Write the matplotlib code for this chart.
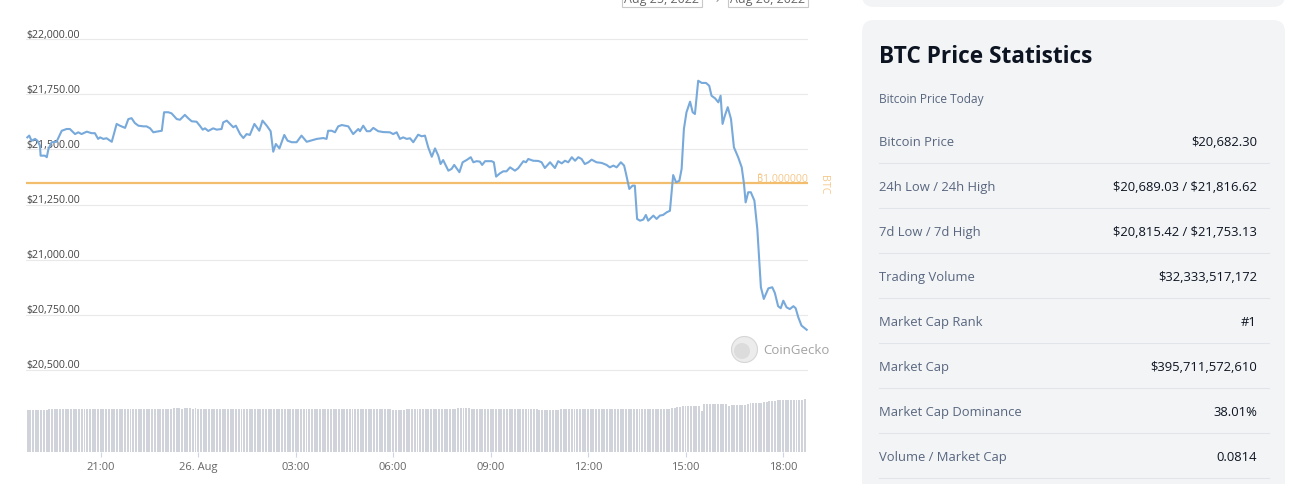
import numpy as np
import matplotlib
matplotlib.use("Agg")
import matplotlib.pyplot as plt
from matplotlib.patches import FancyBboxPatch, Circle, Rectangle

plt.rcParams['font.family'] = ['Open Sans', 'Noto Sans', 'Inter', 'Roboto', 'Lato', 'DejaVu Sans']
plt.rcParams['text.parse_math'] = False

# hours after 18:00 on 25 Aug
price_hours = [
    0.74, 0.80, 0.87, 0.98, 1.05, 1.13, 1.15, 1.28, 1.34, 1.39, 1.49, 1.64, 1.80, 1.95, 2.05,
    2.21, 2.31, 2.41, 2.57, 2.72, 2.82, 2.92, 2.98, 3.08, 3.18, 3.34, 3.49, 3.59, 3.75, 3.85,
    3.95, 4.05, 4.16, 4.31, 4.41, 4.52, 4.62, 4.72, 4.88, 4.95, 5.08, 5.18, 5.34, 5.44, 5.59,
    5.69, 5.80, 5.95, 6.05, 6.14, 6.21, 6.31, 6.46, 6.57, 6.72,
    6.77, 6.88, 6.98, 7.08, 7.16, 7.29, 7.39, 7.49, 7.59, 7.73, 7.88, 7.98, 8.11, 8.23, 8.31,
    8.39, 8.50, 8.65, 8.75, 8.88, 9.03, 9.18, 9.34, 9.65, 9.85, 9.95, 10.00, 10.11, 10.21, 10.31,
    10.42, 10.62, 10.77, 10.93, 10.98, 11.08, 11.19, 11.29, 11.39, 11.54, 11.70, 11.90, 12.00,
    12.11, 12.21, 12.31, 12.42, 12.52, 12.62, 12.77, 12.88, 12.98,
    13.08, 13.19, 13.29, 13.39, 13.46, 13.54, 13.70, 13.80, 13.88, 14.04, 14.14, 14.26, 14.39,
    14.47, 14.57, 14.67, 14.74, 14.83, 15.03, 15.10, 15.17, 15.29, 15.39, 15.49, 15.60, 15.75,
    15.85, 16.01, 16.09, 16.16, 16.31, 16.47, 16.57, 16.67, 16.83, 16.98, 17.08, 17.19, 17.29,
    17.39, 17.50, 17.60, 17.70, 17.80, 17.90, 18.01, 18.11, 18.26, 18.42, 18.57, 18.67, 18.78,
    18.88, 19.01, 19.11,
    19.17, 19.27, 19.37, 19.44, 19.51, 19.60, 19.70, 19.78, 19.85, 20.01, 20.11, 20.21, 20.31,
    20.42, 20.52, 20.62, 20.71, 20.81, 20.88, 20.95, 21.03, 21.14, 21.22, 21.29, 21.39, 21.50,
    21.63, 21.73, 21.80, 21.91, 22.01, 22.08, 22.14, 22.21, 22.30, 22.40, 22.49, 22.62, 22.73,
    22.80, 22.85, 22.93, 23.01, 23.12, 23.21, 23.32, 23.41, 23.55, 23.67, 23.75, 23.85, 23.93,
    24.01, 24.11, 24.21, 24.32, 24.39, 24.47, 24.57, 24.73,
]
price_usd = [
    21555, 21563, 21540, 21548, 21540, 21517, 21472, 21472, 21465, 21502, 21533, 21535, 21585,
    21593, 21593, 21570, 21578, 21570, 21581, 21574, 21574, 21548, 21555, 21548, 21551, 21535,
    21616, 21608, 21598, 21638, 21642, 21620, 21608, 21605, 21605, 21596, 21578, 21581, 21585,
    21669, 21669, 21664, 21638, 21635, 21657, 21642, 21628, 21626, 21608, 21590, 21596, 21584,
    21596, 21590, 21593,
    21623, 21631, 21616, 21601, 21608, 21570, 21552, 21570, 21566, 21616, 21585, 21631, 21608,
    21583, 21490, 21525, 21505, 21566, 21540, 21533, 21533, 21563, 21535, 21548, 21552, 21548,
    21585, 21585, 21578, 21605, 21611, 21605, 21570, 21593, 21583, 21608, 21583, 21583, 21598,
    21583, 21579, 21578, 21570, 21578, 21548, 21555, 21548, 21551, 21533, 21567, 21560, 21563,
    21510, 21467, 21505, 21472, 21434, 21452, 21404, 21412, 21430, 21397, 21442, 21452, 21465,
    21442, 21447, 21445, 21430, 21447, 21447, 21442, 21377, 21392, 21401, 21401, 21419, 21404,
    21415, 21447, 21442, 21457, 21449, 21448, 21442, 21416, 21442, 21416, 21447, 21437, 21449,
    21442, 21465, 21449, 21465, 21457, 21434, 21442, 21454, 21442, 21439, 21430, 21419, 21427,
    21419, 21442, 21427,
    21389, 21321, 21336, 21336, 21185, 21177, 21182, 21203, 21177, 21200, 21185, 21200, 21203,
    21215, 21222, 21384, 21351, 21358, 21412, 21593, 21669, 21717, 21669, 21661, 21812, 21802,
    21802, 21789, 21744, 21732, 21714, 21744, 21616, 21653, 21692, 21638, 21510, 21465, 21419,
    21344, 21260, 21306, 21306, 21268, 21139, 20875, 20822, 20870, 20875, 20849, 20789, 20780,
    20814, 20784, 20776, 20789, 20780, 20739, 20701, 20682,
]
btc_line_usd = 21349

# 5 minute volume bars (bn USD), first bar at 18:45
vol_first_hour = 0.75
volume_rows = [
    [25.6, 25.6, 25.6, 25.6, 25.6, 25.6, 25.6, 25.6, 26.2, 26.2, 26.2, 26.2],
    [26.2, 26.2, 26.2, 26.2, 26.2, 26.2, 26.2, 26.2, 26.2, 26.2, 26.2, 26.2],
    [26.2, 26.2, 26.2, 26.2, 26.2, 26.2, 26.2, 26.2, 26.2, 26.2, 26.2, 26.2],
    [26.2, 26.2, 26.2, 26.2, 26.2, 26.2, 26.2, 26.2, 26.2, 26.2, 26.2, 26.2],
    [26.2, 26.2, 26.2, 26.2, 26.2, 26.5, 26.8, 26.8, 26.8, 26.5, 26.8, 26.8],
    [26.8, 26.5, 26.8, 26.5, 26.2, 26.2, 26.2, 26.2, 26.2, 26.2, 26.2, 26.2],
    [26.2, 26.2, 26.2, 26.2, 26.2, 26.2, 26.2, 26.2, 26.2, 26.2, 26.2, 26.2],
    [26.2, 26.2, 26.2, 26.2, 26.2, 26.2, 26.2, 26.2, 26.2, 26.2, 26.2, 26.2],
    [26.2, 26.2, 26.2, 26.2, 26.2, 26.2, 26.2, 26.2, 26.2, 26.2, 26.2, 26.2],
    [26.2, 26.2, 26.2, 26.2, 26.2, 26.2, 26.2, 26.2, 26.2, 26.2, 26.2, 26.2],
    [26.2, 26.2, 26.2, 26.2, 26.2, 26.2, 26.2, 26.2, 26.2, 26.2, 26.2, 26.2],
    [26.2, 26.2, 26.2, 25.6, 25.6, 25.6, 25.8, 25.8, 26.0, 26.2, 26.2, 26.2],
    [26.2, 26.2, 26.2, 26.2, 26.2, 26.2, 26.2, 26.2, 26.2, 26.2, 26.2, 26.2],
    [26.2, 26.2, 26.2, 26.8, 26.8, 26.8, 26.8, 26.8, 26.5, 26.5, 26.2, 26.2],
    [26.2, 26.2, 26.2, 26.2, 26.2, 26.2, 26.2, 26.2, 26.2, 26.2, 26.2, 26.2],
    [26.2, 26.2, 26.2, 26.2, 26.2, 26.2, 26.2, 26.2, 26.2, 25.9, 25.6, 25.6],
    [25.6, 25.6, 25.6, 25.6, 25.9, 26.2, 26.2, 26.2, 26.2, 26.2, 26.2, 26.2],
    [26.2, 26.2, 26.2, 26.2, 26.2, 26.2, 26.2, 26.2, 26.2, 26.2, 26.2, 26.2],
    [26.2, 26.2, 26.2, 26.2, 26.2, 26.2, 26.2, 26.2, 26.2, 26.2, 26.2, 26.2],
    [26.2, 26.2, 26.2, 26.2, 26.2, 26.2, 26.2, 26.2, 26.5, 26.5, 26.8, 26.8],
    [27.2, 27.5, 27.8, 27.8, 28.0, 28.0, 28.3, 28.3, 28.3, 25.2, 29.2, 29.2],
    [29.2, 29.2, 29.2, 29.2, 29.2, 29.2, 29.2, 27.8, 28.6, 28.6, 28.6, 28.6],
    [28.6, 28.6, 29.3, 29.6, 29.9, 29.9, 29.9, 29.9, 30.2, 30.5, 30.9, 30.9],
    [31.2, 31.5, 31.5, 31.5, 31.5, 31.5, 31.5, 31.5, 31.7, 31.7, 31.8, 32.0],
]

price_ticks = [20500, 20750, 21000, 21250, 21500, 21750, 22000]
time_ticks = [3, 6, 9, 12, 15, 18, 21, 24]
time_labels = ['21:00', '26. Aug', '03:00', '06:00', '09:00', '12:00', '15:00', '18:00']

stat_labels = ['Bitcoin Price', '24h Low / 24h High', '7d Low / 7d High', 'Trading Volume',
               'Market Cap Rank', 'Market Cap', 'Market Cap Dominance', 'Volume / Market Cap']
stat_values = ['$20,682.30', '$20,689.03 / $21,816.62', '$20,815.42 / $21,753.13',
               '$32,333,517,172', '#1', '$395,711,572,610', '38.01%', '0.0814']

W, H = 1293, 485
fig = plt.figure(figsize=(W / 100, H / 100), dpi=100)


def box(x0, y0, x1, y1):
    return [x0 / W, 1 - y1 / H, (x1 - x0) / W, (y1 - y0) / H]


# pixel-space layer for the page furniture
ov = fig.add_axes([0, 0, 1, 1], zorder=0)
ov.set_xlim(0, W)
ov.set_ylim(H, 0)
ov.axis('off')

# price chart
ax = fig.add_axes(box(26, 30, 808, 380), zorder=2)
ax.patch.set_alpha(0)
ax.set_xlim(0.70, 24.77)
ax.set_ylim(20458.7, 22046.7)
for s in ax.spines.values():
    s.set_visible(False)
ax.set_xticks([])
ax.set_yticks([])
for p in price_ticks:
    ax.axhline(p, color='#e9e9e9', lw=0.8, zorder=1)
    ax.annotate(f'${p:,.2f}', xy=(0, p), xycoords=('axes fraction', 'data'),
                xytext=(0, 2), textcoords='offset points', fontsize=7.7,
                color='#444444', va='baseline', ha='left', zorder=2)
ax.axhline(btc_line_usd, color='#f2bd6d', lw=1.6, zorder=3)
ax.annotate('\u20bf1.000000', xy=(1, btc_line_usd), xycoords=('axes fraction', 'data'),
            xytext=(0, 1.5), textcoords='offset points', fontsize=7.7,
            color='#f5c98d', va='baseline', ha='right')
ax.plot(price_hours, price_usd, color='#77a9db', lw=1.5, zorder=4, solid_joinstyle='round')

# volume bars
volumes = [v for row in volume_rows for v in row]
vol_hours = vol_first_hour + np.arange(len(volumes)) / 12
axv = fig.add_axes(box(26, 395, 808, 453), zorder=2)
axv.patch.set_alpha(0)
axv.bar(vol_hours, volumes, width=0.06, color='#d0d3d9', linewidth=0)
axv.set_xlim(0.70, 24.77)
axv.set_ylim(0, 35.35)
for s in axv.spines.values():
    s.set_visible(False)
axv.set_yticks([])
axv.set_xticks(time_ticks, time_labels)
axv.tick_params(axis='x', length=3.6, width=0.8, color='#ccd6eb', labelsize=8,
                labelcolor='#666666', pad=3)

# BTC axis title, watermark
ov.text(824, 185, 'BTC', rotation=270, ha='center', va='center', fontsize=7.7, color='#f5c98d')
ov.add_patch(Circle((744.5, 350.5), 13, fc='#ececec', ec='#d6d6d6', lw=0.8))
ov.add_patch(Circle((742, 352), 8, fc='#dcdcdc', ec='none'))
ov.text(763, 351, 'CoinGecko', ha='left', va='center', fontsize=9.5, color='#a3a3a3')

# date pickers cut at the top
for x0, x1, txt in [(622, 702, 'Aug 25, 2022'), (728, 808, 'Aug 26, 2022')]:
    ov.add_patch(Rectangle((x0, -20), x1 - x0, 28.3, fc='white', ec='#c8c8c8', lw=0.8))
    ov.text((x0 + x1) / 2, 2.5, txt, ha='center', va='baseline', fontsize=9, color='#666666')
ov.text(716, 0, '\u2192', ha='center', va='center', fontsize=8, color='#888888')

# statistics panel
ov.add_patch(FancyBboxPatch((862, -40), 423, 48, boxstyle='round,pad=0,rounding_size=12',
                            fc='#f3f4f6', ec='none'))
ov.add_patch(FancyBboxPatch((862, 21), 423, 520, boxstyle='round,pad=0,rounding_size=12',
                            fc='#f3f4f6', ec='none'))
ov.text(879, 63, 'BTC Price Statistics', fontsize=16.3, weight='bold', color='#0d1421',
        va='baseline', ha='left')
ov.text(879, 103, 'Bitcoin Price Today', fontsize=8.6, color='#58667e', va='baseline', ha='left')
for i, (lab, val) in enumerate(zip(stat_labels, stat_values)):
    yb = 146.5 + 45 * i
    ov.text(879, yb, lab, fontsize=9.4, color='#58667e', va='baseline', ha='left')
    ov.text(1257, yb, val, fontsize=9.4, color='#0d1421', va='baseline', ha='right')
    ov.plot([879, 1269], [163.5 + 45 * i] * 2, color='#e1e4e9', lw=0.8)

fig.savefig('out.png', dpi=100, facecolor='white')
